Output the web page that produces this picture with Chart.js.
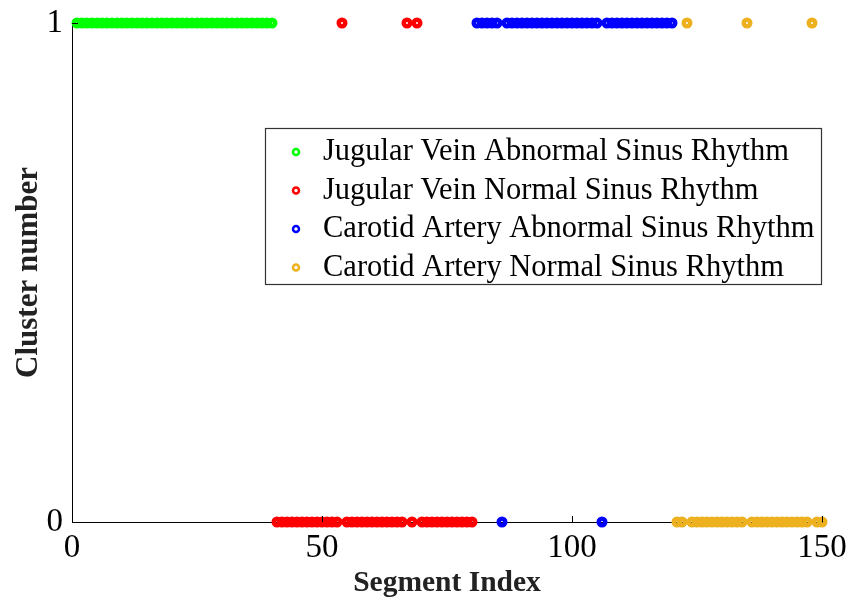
<!DOCTYPE html>
<html>
<head>
<meta charset="utf-8">
<script src="https://cdn.jsdelivr.net/npm/chart.js@4.4.1/dist/chart.umd.min.js"></script>
<style>
  html, body { margin: 0; padding: 0; background: #fff; }
  canvas { display: block; }
</style>
</head>
<body>
<canvas id="chart" width="854" height="601"></canvas>
<script>
// segment index and assigned cluster for each recording group
const jvAbnIndex = [1, 2, 3, 4, 5, 6, 7, 8, 9, 10, 11, 12, 13, 14, 15, 16, 17, 18, 19, 20,
  21, 22, 23, 24, 25, 26, 27, 28, 29, 30, 31, 32, 33, 34, 35, 36, 37, 38, 39, 40];
const jvAbnCluster = [1, 1, 1, 1, 1, 1, 1, 1, 1, 1, 1, 1, 1, 1, 1, 1, 1, 1, 1, 1,
  1, 1, 1, 1, 1, 1, 1, 1, 1, 1, 1, 1, 1, 1, 1, 1, 1, 1, 1, 1];

const jvNorIndex = [41, 42, 43, 44, 45, 46, 47, 48, 49, 50, 51, 52, 53, 54, 55, 56, 57, 58, 59, 60,
  61, 62, 63, 64, 65, 66, 67, 68, 69, 70, 71, 72, 73, 74, 75, 76, 77, 78, 79, 80];
const jvNorCluster = [0, 0, 0, 0, 0, 0, 0, 0, 0, 0, 0, 0, 0, 1, 0, 0, 0, 0, 0, 0,
  0, 0, 0, 0, 0, 0, 1, 0, 1, 0, 0, 0, 0, 0, 0, 0, 0, 0, 0, 0];

const caAbnIndex = [81, 82, 83, 84, 85, 86, 87, 88, 89, 90, 91, 92, 93, 94, 95, 96, 97, 98, 99, 100,
  101, 102, 103, 104, 105, 106, 107, 108, 109, 110, 111, 112, 113, 114, 115, 116, 117, 118, 119, 120];
const caAbnCluster = [1, 1, 1, 1, 1, 0, 1, 1, 1, 1, 1, 1, 1, 1, 1, 1, 1, 1, 1, 1,
  1, 1, 1, 1, 1, 0, 1, 1, 1, 1, 1, 1, 1, 1, 1, 1, 1, 1, 1, 1];

const caNorIndex = [121, 122, 123, 124, 125, 126, 127, 128, 129, 130, 131, 132, 133, 134, 135,
  136, 137, 138, 139, 140, 141, 142, 143, 144, 145, 146, 147, 148, 149, 150];
const caNorCluster = [0, 0, 1, 0, 0, 0, 0, 0, 0, 0, 0, 0, 0, 0, 1,
  0, 0, 0, 0, 0, 0, 0, 0, 0, 0, 0, 0, 1, 0, 0];

const xTicks = [0, 50, 100, 150];
const yTicks = [0, 1];

const SERIF = '"Liberation Serif", "Times New Roman", serif';

function toPoints(xs, ys) {
  return xs.map((x, i) => ({ x: x, y: ys[i] }));
}

function series(label, xs, ys, color) {
  return {
    label: label,
    data: toPoints(xs, ys),
    borderColor: color,
    backgroundColor: 'rgba(0,0,0,0)',
    pointRadius: 3.25,
    pointBorderWidth: 4.5,
    pointHoverRadius: 3.25,
    showLine: false,
    clip: false
  };
}

// boxed legend sitting inside the plot
const boxLegend = {
  id: 'boxLegend',
  afterDatasetsDraw(chart) {
    const ctx = chart.ctx;
    ctx.save();
    ctx.fillStyle = '#fff';
    ctx.fillRect(265, 128, 557, 157);
    ctx.strokeStyle = '#333';
    ctx.lineWidth = 1.2;
    ctx.strokeRect(265.5, 128.5, 556, 156);
    ctx.font = '30.5px ' + SERIF;
    ctx.textBaseline = 'middle';
    chart.data.datasets.forEach((ds, i) => {
      const y = 152 + i * 38.5;
      ctx.beginPath();
      ctx.arc(296, y, 3, 0, Math.PI * 2);
      ctx.strokeStyle = ds.borderColor;
      ctx.lineWidth = 2.5;
      ctx.stroke();
      ctx.fillStyle = '#000';
      ctx.fillText(ds.label, 323, y);
    });
    ctx.restore();
  }
};

// short tick marks pointing into the plot
const innerTicks = {
  id: 'innerTicks',
  afterDraw(chart) {
    const { ctx, scales: { x, y } } = chart;
    ctx.save();
    ctx.strokeStyle = '#000';
    ctx.lineWidth = 1;
    ctx.beginPath();
    xTicks.forEach(v => {
      const px = Math.round(x.getPixelForValue(v)) + 0.5;
      ctx.moveTo(px, y.bottom);
      ctx.lineTo(px, y.bottom - 6);
    });
    yTicks.forEach(v => {
      const py = Math.round(y.getPixelForValue(v)) + 0.5;
      ctx.moveTo(x.left, py);
      ctx.lineTo(x.left + 6, py);
    });
    ctx.stroke();
    ctx.restore();
  }
};

const ctx = document.getElementById('chart').getContext('2d');
new Chart(ctx, {
  type: 'scatter',
  data: {
    datasets: [
      series('Jugular Vein Abnormal Sinus Rhythm', jvAbnIndex, jvAbnCluster, '#00ff00'),
      series('Jugular Vein Normal Sinus Rhythm', jvNorIndex, jvNorCluster, '#ff0000'),
      series('Carotid Artery Abnormal Sinus Rhythm', caAbnIndex, caAbnCluster, '#0000ff'),
      series('Carotid Artery Normal Sinus Rhythm', caNorIndex, caNorCluster, '#edb120')
    ]
  },
  options: {
    responsive: false,
    animation: false,
    layout: { padding: { top: 23, right: 32, left: 0, bottom: 0 } },
    plugins: {
      legend: { display: false },
      tooltip: { enabled: false }
    },
    scales: {
      x: {
        type: 'linear',
        min: 0,
        max: 150,
        afterBuildTicks: s => { s.ticks = xTicks.map(v => ({ value: v })); },
        afterFit: s => { s.height = 79; s.paddingLeft = 0; s.paddingRight = 0; },
        grid: { display: false, drawTicks: false },
        border: { display: true, color: '#000', width: 1 },
        ticks: {
          font: { family: SERIF, size: 33 },
          color: '#000',
          padding: 7,
          maxRotation: 0
        },
        title: {
          display: true,
          text: 'Segment Index',
          font: { family: SERIF, size: 29.5, weight: 'bold' },
          color: '#222',
          padding: { top: 0, bottom: 0 }
        }
      },
      y: {
        type: 'linear',
        min: 0,
        max: 1,
        afterBuildTicks: s => { s.ticks = yTicks.map(v => ({ value: v })); },
        afterFit: s => { s.width = 72; s.paddingTop = 0; s.paddingBottom = 0; },
        grid: { display: false, drawTicks: false },
        border: { display: true, color: '#000', width: 1 },
        ticks: {
          font: { family: SERIF, size: 33 },
          color: '#000',
          padding: 9
        },
        title: {
          display: true,
          text: 'Cluster number',
          font: { family: SERIF, size: 31, weight: 'bold' },
          color: '#222',
          padding: { top: 10, bottom: 0 }
        }
      }
    }
  },
  plugins: [boxLegend, innerTicks]
});
</script>
</body>
</html>
